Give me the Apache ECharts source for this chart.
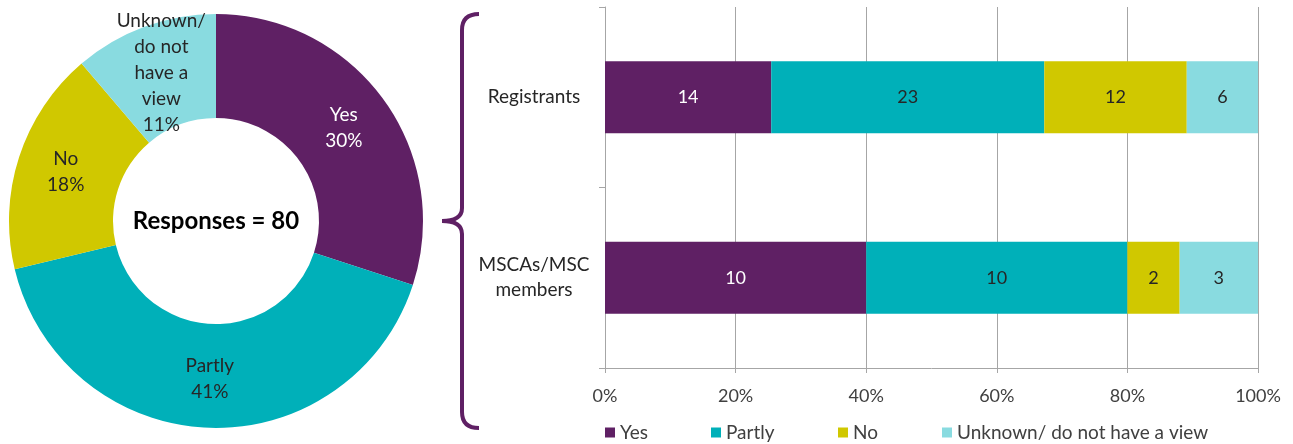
<!DOCTYPE html>
<html>
<head>
<meta charset="utf-8">
<script src="https://cdn.jsdelivr.net/npm/echarts@6/dist/echarts.min.js"></script>
<style>
  html, body { margin: 0; padding: 0; background: #fff; }
  #chart { width: 1293px; height: 444px; }
</style>
</head>
<body>
<div id="chart"></div>
<script>
// answers + colours
var answers = ['Yes', 'Partly', 'No', 'Unknown/ do not have a view'];
var pieNames = ['Yes', 'Partly', 'No', 'Unknown/\ndo not\nhave a\nview'];
var colors = ['#5f2064', '#00b0b9', '#d0c800', '#89dbe0'];

// bar chart categories and counts (per answer)
var groups = ['Registrants', 'MSCAs/MSC\nmembers'];
var registrants = [14, 23, 12, 6];
var mscaMembers = [10, 10, 2, 3];
var xTicks = [0, 20, 40, 60, 80, 100];

var font = 'Lato, "Open Sans", sans-serif';
var dark = '#262626';

var counts = [registrants, mscaMembers];
var totals = counts.map(function (c) { return c.reduce(function (a, b) { return a + b; }, 0); });
var allResponses = totals[0] + totals[1];

var pieData = answers.map(function (a, i) {
    return {
        name: pieNames[i],
        value: registrants[i] + mscaMembers[i],
        label: { color: i === 0 ? '#fff' : dark }
    };
});

var barSeries = answers.map(function (a, i) {
    return {
        name: a,
        type: 'bar',
        stack: 'all',
        barWidth: 72,
        itemStyle: { color: colors[i] },
        label: {
            show: true,
            position: 'inside',
            fontFamily: font,
            fontSize: 18,
            color: i === 0 ? '#fff' : dark,
            formatter: function (p) { return counts[p.dataIndex][i]; }
        },
        data: counts.map(function (c, g) { return c[i] / totals[g] * 100; })
    };
});

var legendLeft = [600, 706, 833, 937];
var legends = answers.map(function (a, i) {
    return {
        data: [a],
        left: legendLeft[i],
        top: 418,
        icon: 'rect',
        itemWidth: 10,
        itemHeight: 10,
        itemGap: 6,
        selectedMode: false,
        textStyle: { fontFamily: font, fontSize: 19, color: '#404040' }
    };
});

// the curly brace between the two charts
var braceStyle = { stroke: '#5f2064', lineWidth: 4, fill: null };
var brace = [
    { type: 'bezierCurve', shape: { x1: 479, y1: 14, x2: 462, y2: 30, cpx1: 462, cpy1: 14 }, style: braceStyle },
    { type: 'line', shape: { x1: 462, y1: 30, x2: 462, y2: 208 }, style: braceStyle },
    { type: 'bezierCurve', shape: { x1: 462, y1: 208, x2: 442, y2: 221, cpx1: 462, cpy1: 221 }, style: braceStyle },
    { type: 'bezierCurve', shape: { x1: 442, y1: 221, x2: 462, y2: 234, cpx1: 462, cpy1: 221 }, style: braceStyle },
    { type: 'line', shape: { x1: 462, y1: 234, x2: 462, y2: 412 }, style: braceStyle },
    { type: 'bezierCurve', shape: { x1: 462, y1: 412, x2: 479, y2: 428, cpx1: 462, cpy1: 428 }, style: braceStyle }
];

var myChart = echarts.init(document.getElementById('chart'));

var option = {
    animation: false,
    textStyle: { fontFamily: font },
    legend: legends,
    grid: { left: 605, right: 35, top: 7, bottom: 76 },
    xAxis: {
        type: 'value',
        min: xTicks[0],
        max: xTicks[xTicks.length - 1],
        interval: xTicks[1] - xTicks[0],
        axisLine: { show: true, lineStyle: { color: '#a6a6a6' } },
        axisTick: { show: true, length: 5, lineStyle: { color: '#a6a6a6' } },
        splitLine: { show: true, lineStyle: { color: '#a6a6a6' } },
        axisLabel: { formatter: '{value}%', fontSize: 18, color: '#404040', margin: 19, fontFamily: font }
    },
    yAxis: {
        type: 'category',
        inverse: true,
        data: groups,
        axisLine: { show: true, lineStyle: { color: '#a6a6a6' } },
        axisTick: { show: true, length: 6, lineStyle: { color: '#a6a6a6' } },
        axisLabel: {
            fontSize: 19, color: '#262626', fontFamily: font,
            align: 'center', margin: 71, lineHeight: 25
        }
    },
    graphic: [
        {
            type: 'text',
            x: 216, y: 221,
            style: {
                text: 'Responses = ' + allResponses,
                align: 'center', verticalAlign: 'middle',
                fontFamily: font, fontWeight: 'bold', fontSize: 24, fill: '#000'
            }
        }
    ].concat(brace),
    series: [{
        type: 'pie',
        center: [216, 221],
        radius: [103, 207],
        startAngle: 90,
        clockwise: true,
        color: colors,
        label: {
            show: true,
            position: 'inside',
            fontFamily: font,
            fontSize: 19,
            lineHeight: 26,
            formatter: function (p) { return p.name + '\n' + Math.round(p.percent) + '%'; }
        },
        labelLine: { show: false },
        data: pieData
    }].concat(barSeries)
};

myChart.setOption(option);
</script>
</body>
</html>
